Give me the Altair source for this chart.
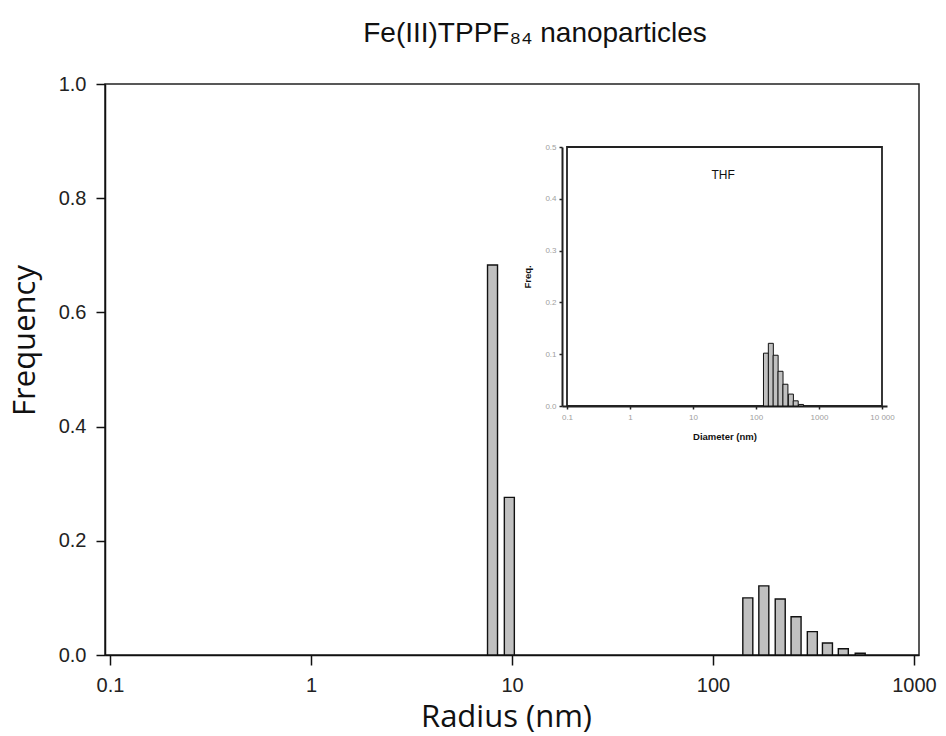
import altair as alt
import pandas as pd

# ---- main plot data (radius, nm) ----
radius_small = [8.0, 9.7]
freq_small = [0.683, 0.276]
radius_large = [149, 179, 216, 259, 312, 371, 445, 540]
freq_large = [0.100, 0.121, 0.098, 0.067, 0.041, 0.021, 0.011, 0.003]

# ---- inset data (THF, diameter, nm) ----
diam_inset = [144, 172, 205, 245, 293, 358, 427, 519]
freq_inset = [0.102, 0.121, 0.098, 0.067, 0.042, 0.023, 0.010, 0.003]

main_x_ticks = [0.1, 1, 10, 100, 1000]
main_y_ticks = [0.0, 0.2, 0.4, 0.6, 0.8, 1.0]
inset_x_ticks = [0.1, 1, 10, 100, 1000, 10000]
inset_y_ticks = [0.0, 0.1, 0.2, 0.3, 0.4, 0.5]

title_text = "Fe(III)TPPF\u2088\u2084 nanoparticles"
inset_label = "THF"

df_main = pd.DataFrame({
    "radius": radius_small + radius_large,
    "freq": freq_small + freq_large,
})
df_inset = pd.DataFrame({"diam": diam_inset, "freq": freq_inset})
df_frame = pd.DataFrame({"x0": [0.1], "x1": [10000], "y0": [0.0], "y1": [0.5]})
df_label = pd.DataFrame({"tx": [30], "ty": [0.445], "label": [inset_label]})

W, H = 814, 571

main = alt.Chart(df_main).mark_bar(
    size=10, fill="#c0c0c0", stroke="#111111", strokeWidth=1.4
).encode(
    x=alt.X(
        "radius:Q",
        scale=alt.Scale(type="log", domain=[0.1, 1000], nice=False),
        axis=alt.Axis(
            orient="bottom", values=main_x_ticks,
            labelExpr="datum.value < 1 ? '0.1' : format(datum.value, 'd')",
            title="Radius (nm)", titleFont="Open Sans", titleFontSize=31,
            titleFontWeight="normal", titleColor="#111",
            titleBaseline="alphabetic", titleY=71, titleX=401,
            labelFont="Liberation Sans", labelFontSize=20, labelColor="#222",
            labelPadding=10, tickSize=10, tickWidth=1.5, domainWidth=1.5,
            domainColor="#111", tickColor="#111", grid=False, labelFlush=False,
        ),
    ),
    y=alt.Y(
        "freq:Q",
        scale=alt.Scale(domain=[0, 1], nice=False),
        axis=alt.Axis(
            orient="left", values=main_y_ticks, format=".1f",
            title="Frequency", titleFont="Open Sans", titleFontSize=31,
            titleFontWeight="normal", titleColor="#111",
            titleAngle=270, titleBaseline="middle", titleAlign="center",
            titleX=-80, titleY=256,
            labelFont="Liberation Sans", labelFontSize=20, labelColor="#222",
            labelPadding=10, tickSize=9, tickWidth=1.5, domainWidth=1.5,
            domainColor="#111", tickColor="#111", grid=False,
        ),
    ),
)

inset_x_scale = alt.Scale(type="log", domain=[0.1, 10000], nice=False, range=[457, 782])
inset_y_scale = alt.Scale(domain=[0, 0.5], nice=False, range=[322, 63])

inset_x_axis = alt.Axis(
    orient="bottom", offset=-249, values=inset_x_ticks,
    labelExpr="datum.value < 1 ? '0.1' : (datum.value >= 10000 ? '10 000' : format(datum.value, 'd'))",
    title="Diameter (nm)", titleFont="Liberation Sans", titleFontSize=9.5,
    titleFontWeight="bold", titleColor="#111", titlePadding=10,
    labelFont="Liberation Sans", labelFontSize=8, labelColor="#a0a0a0",
    labelPadding=4, tickSize=3, tickWidth=1.5, domainWidth=2,
    domainColor="#222", tickColor="#222", grid=False, labelFlush=False,
)
inset_y_axis = alt.Axis(
    orient="left", offset=-457, values=inset_y_ticks, format=".1f",
    title="Freq.", titleFont="Liberation Sans", titleFontSize=9.5,
    titleFontWeight="bold", titleColor="#111", titlePadding=12,
    labelFont="Liberation Sans", labelFontSize=8, labelColor="#a0a0a0",
    labelPadding=3, tickSize=3, tickWidth=1.5, domainWidth=2,
    domainColor="#222", tickColor="#222", grid=False,
)

frame = alt.Chart(df_frame).mark_rect(
    fill="white", stroke="#222", strokeWidth=1.8
).encode(
    x=alt.X("x0:Q", scale=inset_x_scale, axis=inset_x_axis),
    x2="x1:Q",
    y=alt.Y("y0:Q", scale=inset_y_scale, axis=inset_y_axis),
    y2="y1:Q",
)

inset_bars = alt.Chart(df_inset).mark_bar(
    size=5, fill="#c0c0c0", stroke="#111111", strokeWidth=1
).encode(
    x=alt.X("diam:Q", scale=inset_x_scale, axis=inset_x_axis),
    y=alt.Y("freq:Q", scale=inset_y_scale, axis=inset_y_axis),
)

inset_text = alt.Chart(df_label).mark_text(
    font="Liberation Sans", fontSize=12, color="#111", baseline="middle", align="center"
).encode(
    x=alt.X("tx:Q", scale=inset_x_scale, axis=inset_x_axis),
    y=alt.Y("ty:Q", scale=inset_y_scale, axis=inset_y_axis),
    text="label:N",
)

inset = alt.layer(frame, inset_bars, inset_text)

chart = alt.layer(main, inset).resolve_scale(
    x="independent", y="independent"
).resolve_axis(
    x="independent", y="independent"
).properties(
    width=W, height=H,
    autosize=alt.AutoSizeParams(type="none"),
    padding={"left": 105, "top": 84, "right": 27, "bottom": 81},
    title=alt.TitleParams(
        title_text, font="Liberation Sans", fontSize=28, fontWeight="normal",
        color="#111", anchor="middle", dx=23, offset=26,
    ),
    background="white",
).configure_view(
    stroke="#222", strokeWidth=1.5
)

chart.save("out.html", embed_options={"renderer": "svg", "actions": False})
